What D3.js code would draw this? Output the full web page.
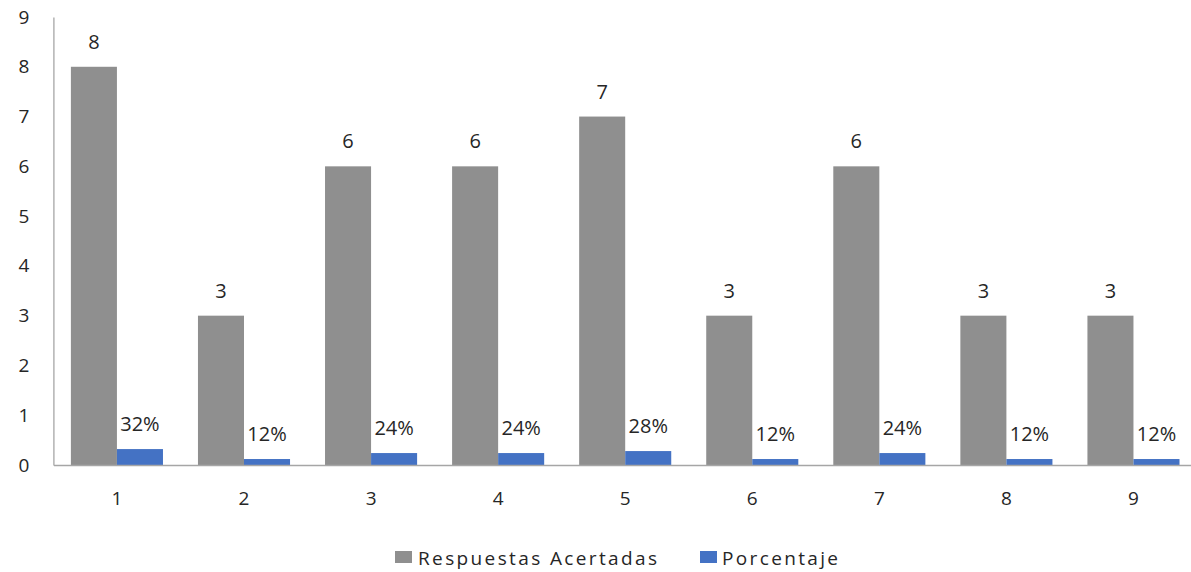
<!DOCTYPE html>
<html><head><meta charset="utf-8">
<script src="https://cdn.jsdelivr.net/npm/d3@7"></script>
<style>body{margin:0;background:#fff}text{font-family:"Open Sans","Noto Sans",sans-serif;fill:#262626}</style>
</head><body><svg id="c" width="1191" height="572"></svg>
<script>
const categories = ["1","2","3","4","5","6","7","8","9"];
const respuestas = [8,3,6,6,7,3,6,3,3];
const porcentaje = [0.32,0.12,0.24,0.24,0.28,0.12,0.24,0.12,0.12];
const porcentajeLabels = ["32%","12%","24%","24%","28%","12%","24%","12%","12%"];
const yTicks = [0,1,2,3,4,5,6,7,8,9];
const seriesNames = ["Respuestas Acertadas","Porcentaje"];
const colors = ["#8f8f8f","#4472c4"];

const svg = d3.select("#c");
const x = d3.scaleBand().domain(categories).range([53.4,1197]).paddingInner(0).paddingOuter(0);
const inner = d3.scaleBand().domain([0,1]).range([0,x.bandwidth()]).paddingInner(0).paddingOuter(0.38);
const y = d3.scaleLinear().domain([0,9]).range([465,17]);

// y axis
const ya = svg.append("g").attr("transform","translate(53.4,0)").call(d3.axisLeft(y).tickValues(yTicks).tickSize(0).tickPadding(24));
ya.select(".domain").attr("stroke","#a6a6a6").attr("stroke-width",1.3);
ya.selectAll("text").style("font-size","19px").style("fill","#262626");

// bars
const data = categories.map((c,i)=>({c,v:[respuestas[i],porcentaje[i]],l:[String(respuestas[i]),porcentajeLabels[i]]}));
const g = svg.append("g").selectAll("g").data(data).join("g").attr("transform",d=>`translate(${x(d.c)},0)`);
[0,1].forEach(s=>{
  g.append("rect").attr("x",inner(s)).attr("width",inner.bandwidth())
   .attr("y",d=>y(d.v[s])).attr("height",d=>y(0)-y(d.v[s])).attr("fill",colors[s]);
  g.append("text").attr("x",inner(s)+inner.bandwidth()/2).attr("y",d=>y(d.v[s])-18)
   .attr("text-anchor","middle").style("font-size","20px").text(d=>d.l[s]);
});

// x axis
const xa = svg.append("g").attr("transform","translate(0,465)").call(d3.axisBottom(x).tickSize(0).tickPadding(27));
xa.select(".domain").attr("stroke","#a6a6a6").attr("stroke-width",1.3);
xa.selectAll("text").style("font-size","19px").style("fill","#262626");

// legend
const leg = [{x:395,tx:418,w:239},{x:700,tx:722,w:116}];
seriesNames.forEach((n,i)=>{
  svg.append("rect").attr("x",leg[i].x).attr("y",551).attr("width",17).attr("height",12).attr("fill",colors[i]);
  svg.append("text").attr("x",leg[i].tx).attr("y",565).style("font-size","19px")
    .attr("textLength",leg[i].w).attr("lengthAdjust","spacing").text(n);
});
</script></body></html>
